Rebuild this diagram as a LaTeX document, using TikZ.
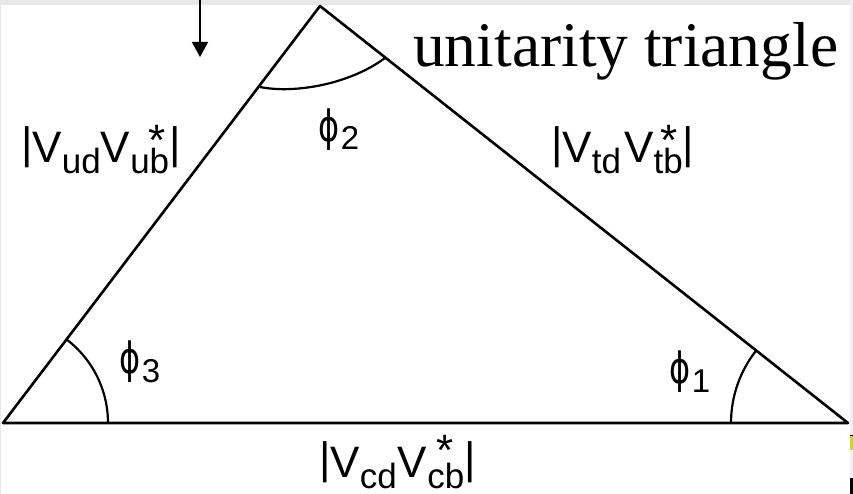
\documentclass[tikz,border=0pt]{standalone}
\usepackage{fontspec}
\setmainfont{Liberation Serif}
\setsansfont{Liberation Sans}
\newfontfamily\phifont{DejaVu Sans}
\usetikzlibrary{arrows.meta}
\newcommand{\ckmsubs}[1]{\raisebox{-11pt}{\fontsize{35}{35}\selectfont #1}}
\newcommand{\ckmbar}{\raisebox{4pt}{|}}
% #1 first sub, #2 second sub, #3 gap, #4 star offset, #5 star raise
\newcommand{\ckmlab}[5]{\ckmbar V\ckmsubs{#1}\hspace{#3}V\ckmsubs{#2}\llap{\raisebox{#5}{*}\hspace{#4}}\ckmbar}
\newcommand{\philab}[1]{\raisebox{8.5pt}{\scalebox{0.78}[1.05]{\fontsize{41}{41}\phifont ϕ}}\hspace{1.5pt}{\fontsize{33}{33}\selectfont #1}}
\definecolor{stripgray}{HTML}{E8E8E8}
\definecolor{markyellow}{HTML}{C8E010}
\tikzset{
  side/.style={line width=2.6pt, line cap=round, line join=round},
  anglearc/.style={line width=2.2pt},
  ckm/.style={font=\sffamily\fontsize{44}{44}\selectfont, inner sep=0pt, anchor=base west},
  philabel/.style={font=\sffamily, inner sep=0pt, anchor=base west},
  title/.style={font=\rmfamily\fontsize{63.5}{63.5}\selectfont, inner sep=0pt, anchor=base west},
  pointer/.style={line width=1.5pt, -{Triangle[width=16pt,length=15pt]}}
}
\begin{document}
\begin{tikzpicture}[x=1pt,y=-1pt]
\useasboundingbox (0,0) rectangle (853,494);
\fill[white] (0,0) rectangle (853,494);
% frame strips
\fill[stripgray] (0,0) rectangle (853,5);
\fill[stripgray!60] (850,0) rectangle (853,494);
\fill[stripgray] (0,0) rectangle (1,494);
\fill[markyellow] (850,435) rectangle (853,450);
\draw[line width=1pt] (850,435.5) -- (853,435.5);
\fill[black] (850,478) rectangle (853,494);
% vertices
\coordinate (L) at (3,423);
\coordinate (T) at (320,6);
\coordinate (R) at (848,423);
\draw[side] (L) -- (T) -- (R) -- cycle;
% angle arcs
\coordinate (a3s) at (108,423);
\draw[anglearc] (a3s) arc[start angle=0, end angle=-52.8, radius=105];
\coordinate (a1s) at (731,423);
\draw[anglearc] (a1s) arc[start angle=180, end angle=218.3, radius=117];
\coordinate (a2l) at (260,87);
\coordinate (a2r) at (385,58);
\draw[anglearc] (a2l) .. controls (295,94) and (350,84) .. (a2r);
% pointer arrow
\coordinate (arrtop) at (200,0);
\coordinate (arrtip) at (200,57);
\draw[pointer] (arrtop) -- (arrtip);
% labels
\node[title] (ttl) at (413,67) {unitarity triangle};
\node[ckm] (lud) at (21,163) {\ckmlab{ud}{ub}{0pt}{4pt}{7pt}};
\node[ckm] (ltd) at (551,163) {\ckmlab{td}{tb}{3pt}{5pt}{7pt}};
\node[ckm] (lcd) at (319,477) {\ckmlab{cd}{cb}{1pt}{11pt}{12pt}};
\node[philabel] (p2) at (318,150) {\philab{2}};
\node[philabel] (p3) at (119,382) {\philab{3}};
\node[philabel] (p1) at (669,392) {\philab{1}};
\end{tikzpicture}
\end{document}
